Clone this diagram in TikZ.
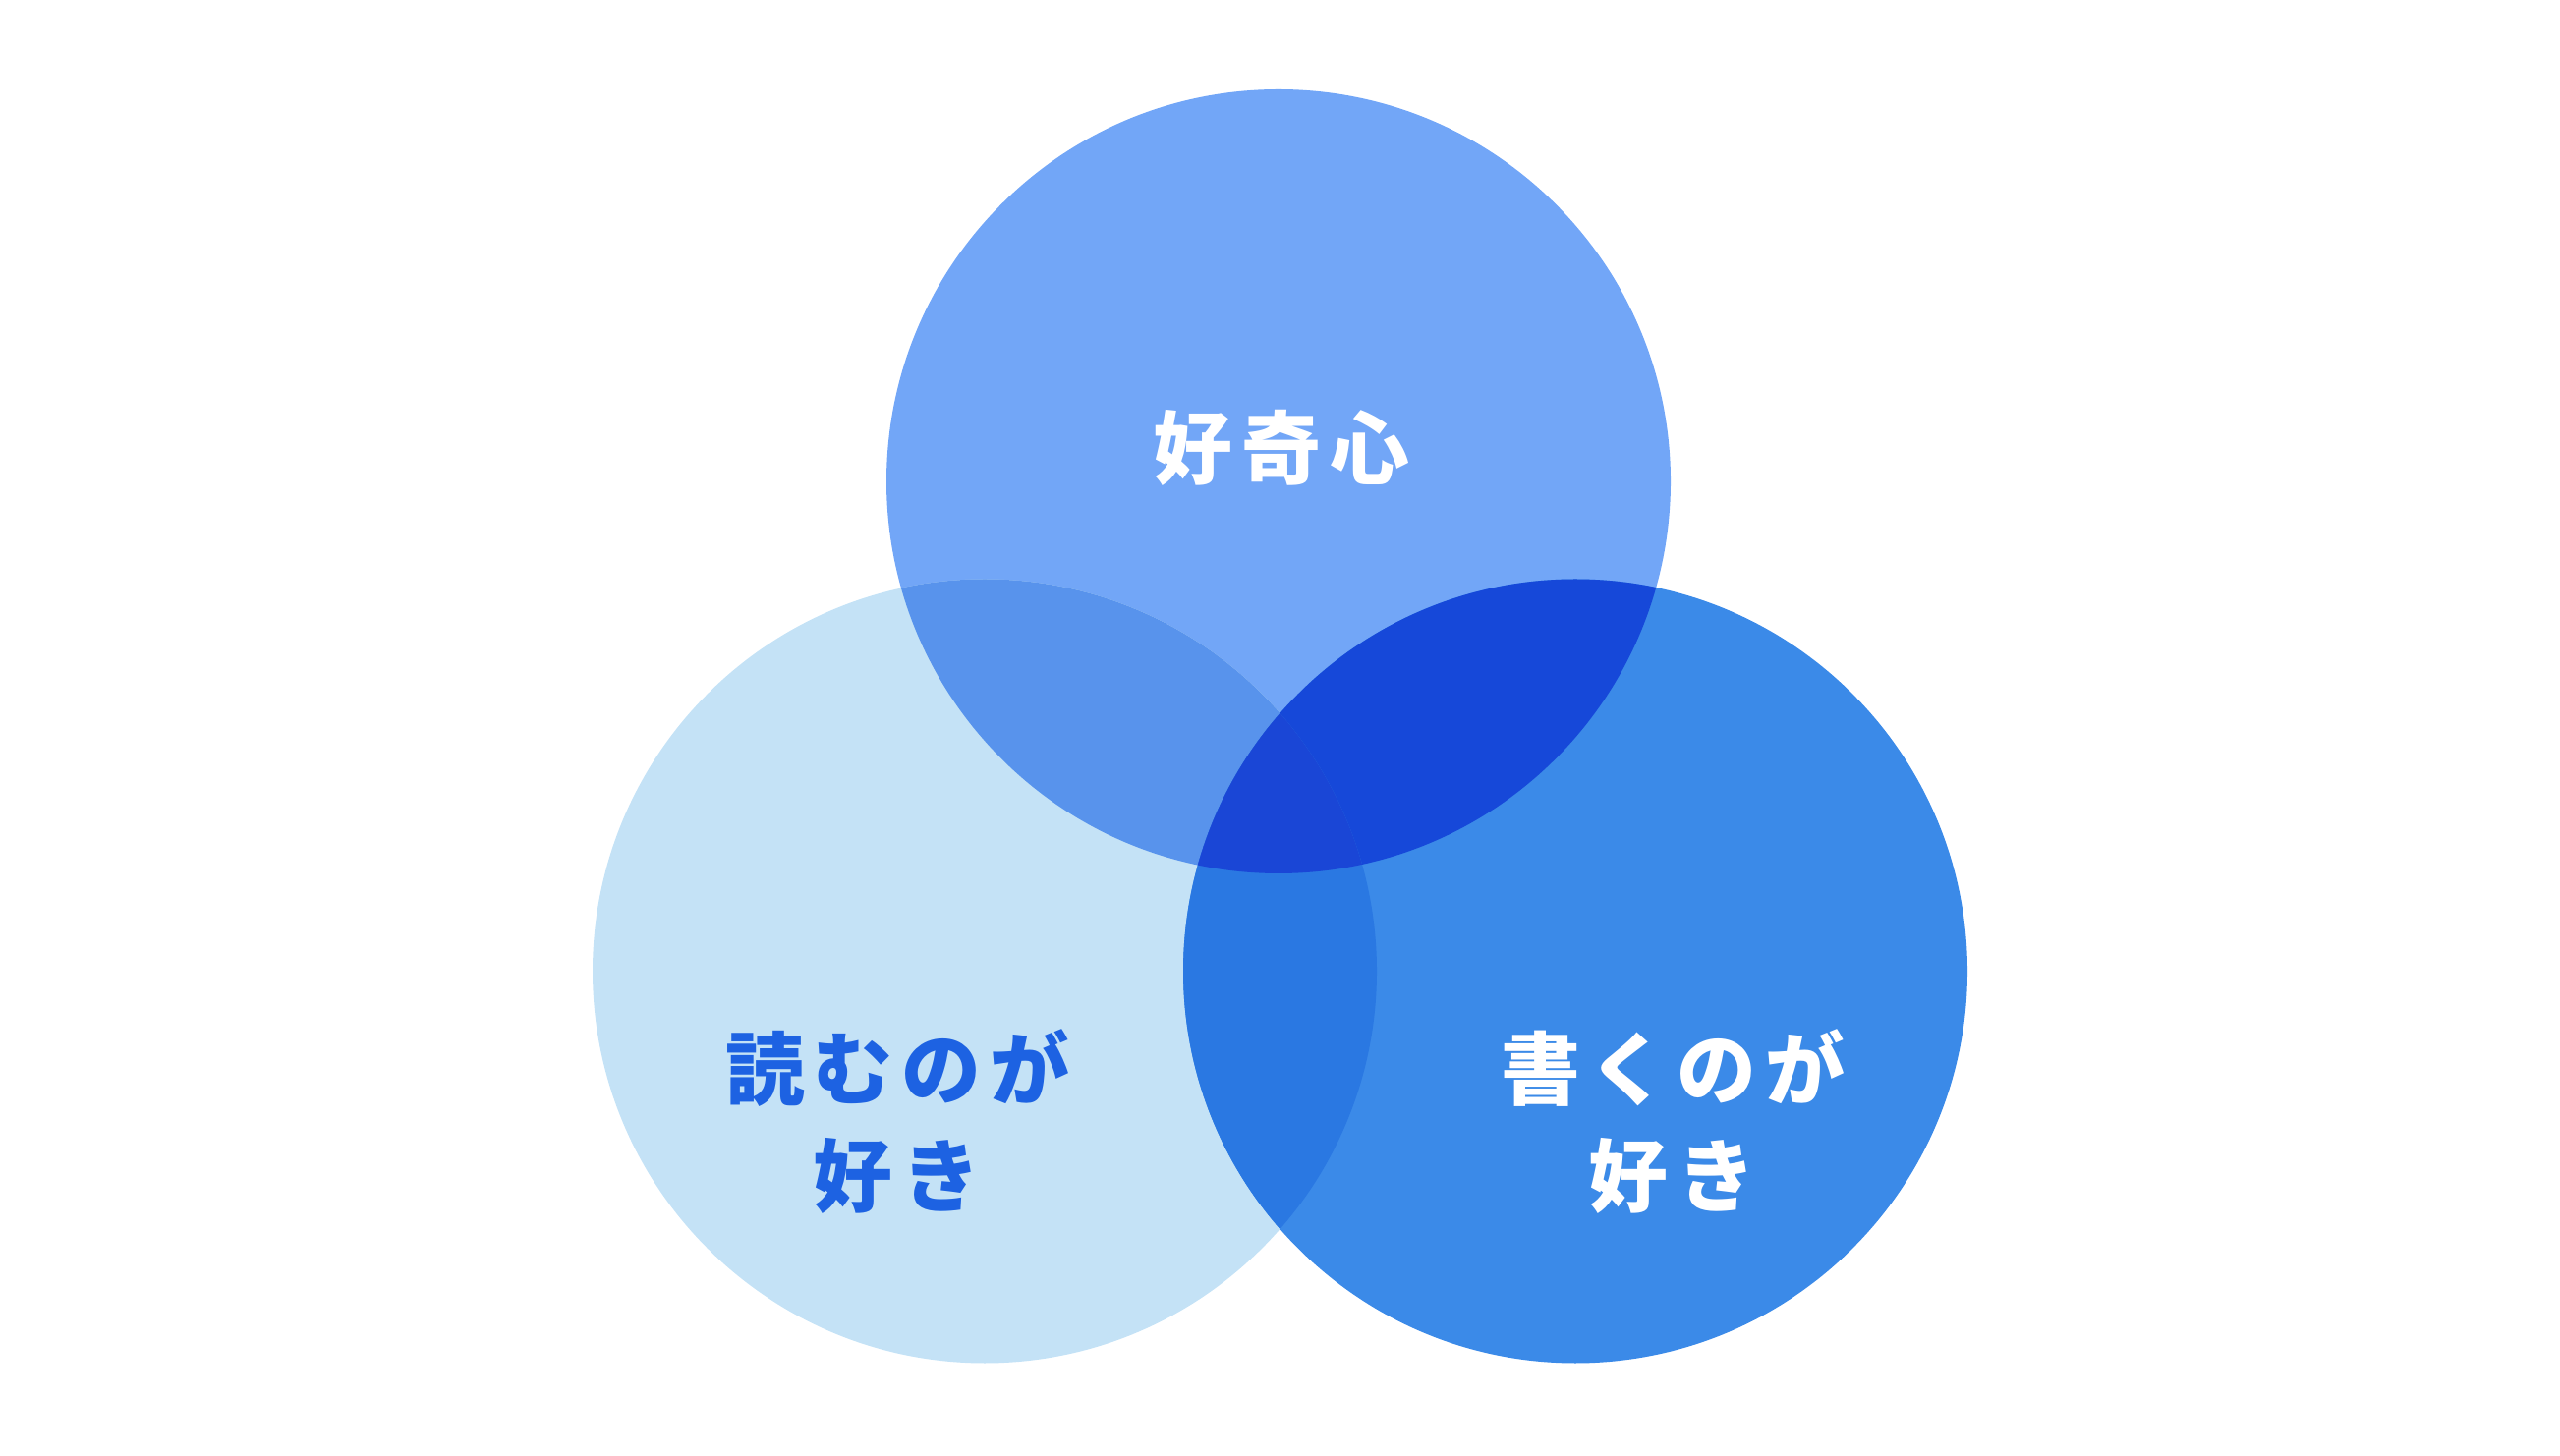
\documentclass[tikz,border=0pt]{standalone}
\usepackage{fontspec}
\newfontfamily\jpfont[LetterSpace=11]{Noto Sans CJK JP}
\usepackage{tikz}
\usetikzlibrary{positioning}

\definecolor{topblue}{HTML}{72A6F7}
\definecolor{leftblue}{HTML}{C4E2F6}
\definecolor{rightblue}{HTML}{3B8AE8}
\definecolor{tlblue}{HTML}{5893EC}
\definecolor{trblue}{HTML}{1648D9}
\definecolor{lrblue}{HTML}{2A78E2}
\definecolor{midblue}{HTML}{1A46D6}
\definecolor{textblue}{HTML}{1D62E2}

\begin{document}
\begin{tikzpicture}[
    label/.style={align=center, font=\jpfont\bfseries\fontsize{23}{31}\selectfont, inner sep=0pt},
    rad/.style={radius=3.99}
]
\useasboundingbox (0,0) rectangle (26.05,14.81);
\coordinate (ctop) at (13.01,9.91);
\coordinate (cleft) at (10.02,4.925);
\coordinate (cright) at (16.03,4.925);

% circles
\fill[topblue] (ctop) circle[rad];
\fill[leftblue] (cleft) circle[rad];
\fill[rightblue] (cright) circle[rad];

% overlaps
\begin{scope}
  \clip (ctop) circle[rad];
  \fill[tlblue] (cleft) circle[rad];
  \fill[trblue] (cright) circle[rad];
\end{scope}
\begin{scope}
  \clip (cleft) circle[rad];
  \fill[lrblue] (cright) circle[rad];
  \clip (cright) circle[rad];
  \fill[midblue] (ctop) circle[rad];
\end{scope}

% labels
\node[label, text=white] (curious) at (13.04,10.25) {好奇心};
\node[label, text=textblue] (reading) at (9.13,3.39) {読むのが\\好き};
\node[label, text=white] (writing) at (17.02,3.39) {書くのが\\好き};
\end{tikzpicture}
\end{document}
